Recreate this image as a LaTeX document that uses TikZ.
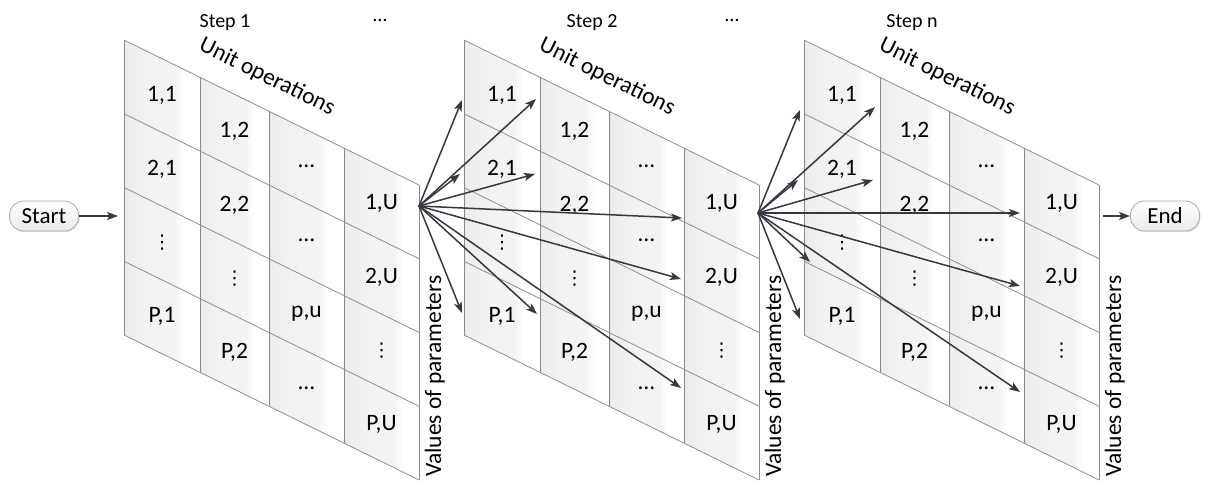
\documentclass[tikz,border=0pt]{standalone}
\usepackage{fontspec}
\setmainfont{Carlito}
\newfontfamily\symfont{DejaVu Sans}
\usetikzlibrary{arrows.meta,shadows}
\pgfdeclarehorizontalshading{colshade}{100bp}{color(0bp)=(gray!26); color(25bp)=(gray!26); color(26.2bp)=(gray!14); color(40bp)=(gray!10); color(58bp)=(gray!9); color(64.5bp)=(white); color(100bp)=(white)}
\definecolor{gridc}{RGB}{135,148,148}
\definecolor{divc}{RGB}{140,140,140}
\definecolor{arrc}{RGB}{58,54,66}
\newcommand\vdd{{\symfont\fontsize{19}{22}\selectfont ⋮}}
\begin{document}
\begin{tikzpicture}[x=1pt,y=-1pt,
  cell/.style={font=\fontsize{23.5}{28}\selectfont, inner sep=0pt},
  steplbl/.style={font=\fontsize{20}{24}\selectfont, inner sep=0pt, anchor=base},
  gridline/.style={draw=gridc, line width=0.8pt},
  divline/.style={draw=divc, line width=0.9pt},
  fan/.style={draw=arrc, line width=1.5pt, -{Stealth[length=11pt,width=8pt,inset=2.5pt]}},
  pill/.style={draw=gray!65, line width=0.8pt, rounded corners=14pt, minimum width=69pt, minimum height=30pt,
    top color=white, bottom color=gray!16, font=\fontsize{23}{28}\selectfont, inner sep=0pt,
    drop shadow={shadow xshift=1.2pt, shadow yshift=-1.2pt, opacity=0.2}},
]
\useasboundingbox (0,0) rectangle (1205,481);
\def\sl{0.4915}
% panels
\foreach \px/\k in {124/1,464/2,804/3}{
  \foreach \a/\b in {0/76,76/145,145/220,220/295}{
    \path[shading=colshade] ({\px+\a},{40+\sl*\a}) -- ({\px+\b},{40+\sl*\b}) -- ({\px+\b},{335+\sl*\b}) -- ({\px+\a},{335+\sl*\a}) -- cycle;
  }
  \foreach \r in {0,1,2,3,4}{
    \draw[gridline] (\px,{40+73.75*\r}) -- ({\px+295},{40+73.75*\r+\sl*295});
  }
  \foreach \a in {0,76,145,220,295}{
    \draw[divline] ({\px+\a},{40+\sl*\a}) -- ({\px+\a},{335+\sl*\a});
  }
  \foreach \j/\m/\i/\t in {0/38/0/{1,1},0/38/1/{2,1},0/38/2/{\vdd},0/38/3/{P,1},
                           1/110.5/0/{1,2},1/110.5/1/{2,2},1/110.5/2/{\vdd},1/110.5/3/{P,2},
                           2/182.5/0/{…},2/182.5/1/{…},2/182.5/2/{p,u},2/182.5/3/{…},
                           3/257.5/0/{1,U},3/257.5/1/{2,U},3/257.5/2/{\vdd},3/257.5/3/{P,U}}{
    \node[cell] (p\k-\j-\i) at ({\px+\m},{40+\sl*\m+73.75*(\i+0.5)}) {\t};
  }
  \node[cell, rotate=-26.17] (uo\k) at ({\px+143},77) {Unit operations};
  \node[cell, rotate=90, anchor=base west] (vp\k) at ({\px+317},477) {Values of parameters};
}
% titles
\node[steplbl] (s1) at (225,28) {Step 1};
\node[steplbl] (s2) at (592,28) {Step 2};
\node[steplbl] (s3) at (912,28) {Step n};
\node[steplbl] (d1) at (380,22) {…};
\node[steplbl] (d2) at (732,22) {…};
% start / end
\node[pill] (start) at (44,216) {Start};
\node[pill] (end) at (1165,216) {End};
\coordinate (in1) at (118,216);
\coordinate (out3) at (1103,216);
\draw[fan] (start.east) -- (in1);
\draw[fan] (out3) -- (end.west);
% fan 2
\coordinate (o2) at (419,206);
\foreach \n/\x/\y in {1/462/100,2/536/99,3/460/174,4/535/174,5/682/218,6/681/279,7/681/388,8/462/313,9/537/314}{
  \coordinate (t2-\n) at (\x,\y);
  \draw[fan] (o2) -- (t2-\n);
}
% fan 3
\coordinate (o3) at (758,213);
\foreach \n/\x/\y in {1/800/110,2/875/107,3/798/180,4/873/180,5/1020/213,6/1020/286,7/1020/392,8/810/262,9/800/319}{
  \coordinate (t3-\n) at (\x,\y);
  \draw[fan] (o3) -- (t3-\n);
}
\end{tikzpicture}
\end{document}
